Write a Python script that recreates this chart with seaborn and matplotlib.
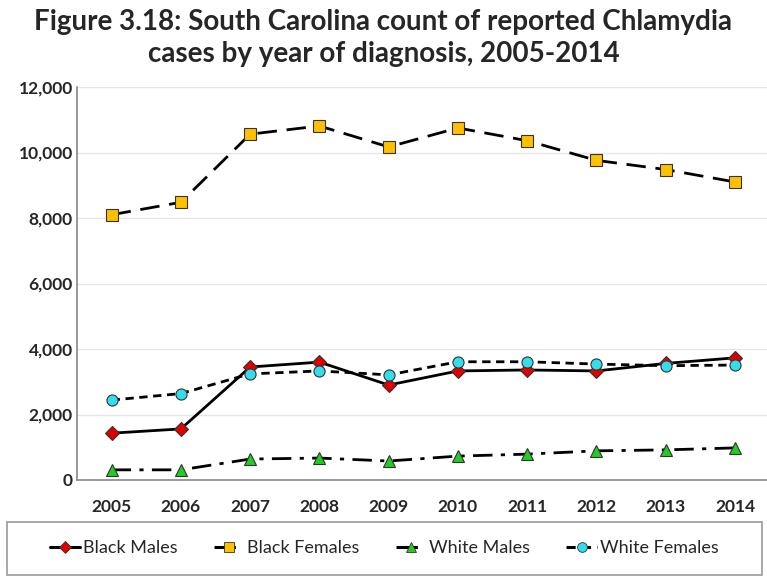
import matplotlib
matplotlib.use("Agg")
import matplotlib.pyplot as plt
import pandas as pd
import seaborn as sns
from matplotlib.lines import Line2D
from matplotlib.patches import Rectangle
from matplotlib.ticker import FuncFormatter, MultipleLocator

years = ["2005", "2006", "2007", "2008", "2009", "2010", "2011", "2012", "2013", "2014"]
black_males = [1430, 1560, 3450, 3600, 2900, 3330, 3360, 3330, 3560, 3730]
black_females = [8100, 8480, 10560, 10810, 10170, 10750, 10360, 9760, 9480, 9100]
white_males = [310, 310, 640, 670, 580, 730, 790, 890, 920, 980]
white_females = [2440, 2640, 3240, 3330, 3210, 3610, 3610, 3540, 3490, 3510]

series = {
    "Black Males": black_males,
    "Black Females": black_females,
    "White Males": white_males,
    "White Females": white_females,
}
styles = {
    "Black Males": dict(marker="D", mfc="#E00000", ls="-", ms=7),
    "Black Females": dict(marker="s", mfc="#FFC000", ls=(0, (7, 3.5)), ms=8),
    "White Males": dict(marker="^", mfc="#22CC22", ls=(0, (7, 3, 1.5, 3)), ms=8),
    "White Females": dict(marker="o", mfc="#33DDEE", ls=(0, (3, 2)), ms=8),
}

rows = []
for name, vals in series.items():
    for i, v in enumerate(vals):
        rows.append({"pos": i, "year": years[i], "count": v, "group": name})
df = pd.DataFrame(rows)

sns.set_style("white")
plt.rcParams["font.family"] = ["Lato", "DejaVu Sans"]

fig = plt.figure(figsize=(7.67, 5.77), dpi=100)
ax = fig.add_axes([77 / 767, 1 - 480 / 577, 692.6 / 767, 393 / 577])

handles = []
for name in series:
    st = styles[name]
    sub = df[df["group"] == name]
    sns.lineplot(data=sub, x="pos", y="count", ax=ax, color="black", lw=2,
                 linestyle=st["ls"], marker=st["marker"], markersize=st["ms"],
                 markerfacecolor=st["mfc"], markeredgecolor="#333333",
                 markeredgewidth=0.8, legend=False)
    handles.append(Line2D([], [], color="black", lw=2.2, linestyle=st["ls"],
                          marker=st["marker"], markersize=st["ms"] - 1,
                          markerfacecolor=st["mfc"], markeredgecolor="#333333",
                          markeredgewidth=0.6, label=name))

ax.set_xlim(-0.5, 9.5)
ax.set_ylim(0, 12000)
ax.yaxis.set_major_locator(MultipleLocator(2000))
ax.yaxis.set_major_formatter(FuncFormatter(lambda v, p: f"{int(v):,}"))
ax.set_xticks(range(len(years)))
ax.set_xticklabels(years)
ax.set_xticks([i + 0.5 for i in range(-1, len(years))], minor=True)
ax.tick_params(axis="x", which="major", length=0, pad=14)
ax.tick_params(axis="x", which="minor", length=6, width=1, color="#888888", direction="out")
ax.tick_params(axis="y", length=0, pad=3)
for lab in ax.get_xticklabels() + ax.get_yticklabels():
    lab.set_fontweight("bold")
    lab.set_fontsize(12.5)
ax.grid(axis="y", color="#E6E6E6", lw=1)
ax.set_axisbelow(True)
for s in ["top", "right"]:
    ax.spines[s].set_visible(False)
for s in ["left", "bottom"]:
    ax.spines[s].set_color("#888888")
    ax.spines[s].set_linewidth(1.2)
ax.set_xlabel("")
ax.set_ylabel("")

fig.text(0.5, 1 - 22 / 577, "Figure 3.18: South Carolina count of reported Chlamydia",
         ha="center", va="center", fontsize=20, fontweight="bold")
fig.text(0.5, 1 - 54 / 577, "cases by year of diagnosis, 2005-2014",
         ha="center", va="center", fontsize=20, fontweight="bold")

fig.patches.append(Rectangle((7 / 767, 1 - 575 / 577), 755 / 767, 53 / 577,
                             transform=fig.transFigure, fill=False,
                             edgecolor="#999999", lw=1.2))
fig.legend(handles=handles, loc="center", ncol=4,
           bbox_to_anchor=(384 / 767, 1 - 548 / 577),
           frameon=False, fontsize=13, handlelength=1.7,
           handletextpad=0.15, columnspacing=2.0)

fig.savefig("out.png", dpi=100)
